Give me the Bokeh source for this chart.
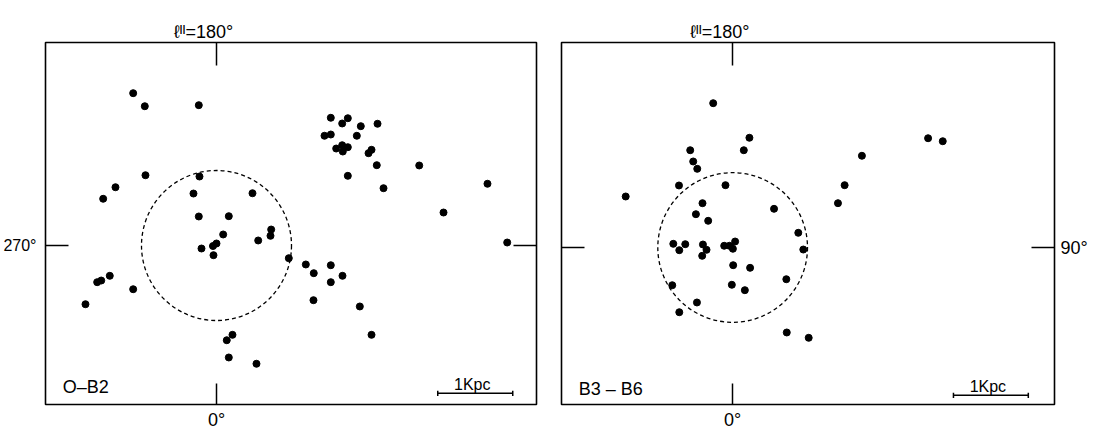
from bokeh.plotting import figure
from bokeh.models import Range1d, LinearAxis, FixedTicker
from bokeh.layouts import row
from bokeh.core.properties import value
from bokeh.embed import file_html
from bokeh.resources import INLINE

FONT = "Liberation Sans"

# ---- data (heliocentric positions in kpc, Sun at origin) ----
ob2_x = [-1.111, -0.956, -0.236, -0.947, -0.227, -1.347, -1.511, -0.307, 0.480, -0.236,
         0.164, -0.200, -0.047, 0.000, 0.089, -0.040, 0.556, 0.729, 0.720, 0.964,
         -1.423, -1.537, -1.591, -1.111, -1.747, 0.213, 0.137, 0.164, 0.533,
         1.524, 1.751, 1.676, 1.924, 2.147, 1.440, 1.524, 1.871, 1.596, 1.676,
         1.751, 1.684, 2.027, 2.067, 2.137, 2.703, 1.751, 2.227, 3.613, 3.027,
         1.191, 1.297, 1.524, 1.524, 1.680, 1.293, 1.911, 2.067, 3.876]
ob2_y = [2.031, 1.857, 1.871, 0.937, 0.920, 0.777, 0.623, 0.693, 0.697, 0.387,
         0.391, -0.040, -0.007, 0.027, 0.147, -0.129, 0.067, 0.213, 0.129, -0.169,
         -0.404, -0.467, -0.489, -0.583, -0.783, -1.191, -1.263, -1.493, -1.577,
         1.703, 1.697, 1.627, 1.591, 1.623, 1.463, 1.480, 1.463, 1.293, 1.337,
         1.311, 1.253, 1.231, 1.276, 1.071, 1.067, 0.929, 0.764, 0.823, 0.440,
         -0.253, -0.369, -0.263, -0.489, -0.404, -0.729, -0.813, -1.191, 0.040]

b3b6_x = [-0.260, 0.224, 0.149, -0.567, -0.527, -0.473, -0.717, -0.096, -1.429, -0.403,
          -0.491, -0.327, 0.553, 2.611, 2.807, 1.727, 1.496, 1.407, 0.877, -0.793,
          -0.713, -0.633, -0.397, -0.349, -0.407, -0.113, -0.043, 0.033, 0.003, 0.944,
          0.007, 0.233, 0.717, -0.807, -0.011, 0.163, -0.477, -0.713, 0.723, 1.016]
b3b6_y = [1.924, 1.463, 1.297, 1.297, 1.147, 1.049, 0.827, 0.831, 0.680, 0.591,
          0.444, 0.356, 0.516, 1.457, 1.417, 1.223, 0.831, 0.591, 0.196, 0.049,
          -0.036, 0.044, 0.040, -0.031, -0.111, 0.023, 0.023, 0.080, -0.017, -0.027,
          -0.236, -0.271, -0.423, -0.503, -0.497, -0.569, -0.733, -0.863, -1.133, -1.204]

panel_names = ["O\u2013B2", "B3 \u2013 B6"]
top_tick_label = "\u2113\u1d35\u1d35=180\u00b0"
bottom_tick_label = "0\u00b0"
left_tick_label = "270\u00b0"
right_tick_label = "90\u00b0"
circle_radius_kpc = [1.0]
scale_bar_kpc = 1.0
scale_bar_text = "1Kpc"


def tick_axis(p, loc, label=None, size="18px", standoff=5, tick_len=23):
    ax = LinearAxis(ticker=FixedTicker(ticks=[0], minor_ticks=[]),
                    major_tick_in=tick_len, major_tick_out=0,
                    major_tick_line_width=1.5, major_tick_line_color="black",
                    minor_tick_line_color=None, axis_line_color=None,
                    major_label_standoff=standoff if label else 0,
                    major_label_text_font=FONT,
                    major_label_text_font_size=size if label else "0px",
                    major_label_text_color="black",
                    major_label_overrides={0: label if label else ""})
    p.add_layout(ax, loc)


def label_axis(p, loc, pos, label, size="18px", standoff=1):
    ax = LinearAxis(ticker=FixedTicker(ticks=[pos], minor_ticks=[]),
                    major_tick_in=0, major_tick_out=0, major_tick_line_color=None,
                    minor_tick_line_color=None, axis_line_color=None,
                    major_label_standoff=standoff, major_label_text_font=FONT,
                    major_label_text_font_size=size, major_label_text_color="black",
                    major_label_overrides={pos: label})
    p.add_layout(ax, loc)


def make_panel(xs, ys, name, xr, yr, width, mbl, mbr, left_text=None, right_text=None):
    p = figure(width=width, height=432, x_range=Range1d(*xr), y_range=Range1d(*yr),
               x_axis_location=None, y_axis_location=None,
               toolbar_location=None, output_backend="svg",
               min_border_left=mbl, min_border_right=mbr,
               min_border_top=42, min_border_bottom=28,
               outline_line_color="black", outline_line_width=1.6,
               background_fill_color="white", border_fill_color="white")
    p.xgrid.grid_line_color = None
    p.ygrid.grid_line_color = None

    tick_axis(p, "left", left_text, size="16px", standoff=9)
    tick_axis(p, "right", right_text, size="18px", standoff=6)
    tick_axis(p, "below", bottom_tick_label, size="18px", standoff=5, tick_len=21)
    tick_axis(p, "above", None)
    label_axis(p, "above", -0.173, top_tick_label, size="18px", standoff=1)

    # dashed 1 kpc circle around the Sun
    p.circle(x=[0.0], y=[0.0], radius=circle_radius_kpc, fill_color=None,
             line_color="black", line_dash="4 3", line_width=1.3)

    # stars
    p.scatter(xs, ys, size=7, color="black")

    # panel name
    p.text(x=[xr[0] + 0.23], y=[-1.887], text=[name], text_font=value(FONT),
           text_font_size="18px", text_align="left", text_baseline="alphabetic",
           text_color="black")

    # scale bar
    sb0, sby = 2.95, -1.97
    p.segment(x0=[sb0], y0=[sby], x1=[sb0 + scale_bar_kpc], y1=[sby],
              line_color="black", line_width=1.5)
    p.segment(x0=[sb0, sb0 + scale_bar_kpc], y0=[sby - 0.035] * 2,
              x1=[sb0, sb0 + scale_bar_kpc], y1=[sby + 0.035] * 2,
              line_color="black", line_width=1.5)
    p.text(x=[sb0 + scale_bar_kpc / 2 - 0.04], y=[-1.85], text=[scale_bar_text],
           text_font=value(FONT), text_font_size="16px", text_align="center",
           text_baseline="alphabetic", text_color="black")
    return p


p1 = make_panel(ob2_x, ob2_y, panel_names[0], (-2.28, 4.2667), (-2.12, 2.7067),
                546, 45, 10, left_text=left_tick_label)
p2 = make_panel(b3b6_x, b3b6_y, panel_names[1], (-2.2867, 4.30), (-2.0933, 2.7333),
                544, 15, 35, right_text=right_tick_label)

layout = row(p1, p2)
open("out.html", "w").write(file_html(layout, INLINE))
